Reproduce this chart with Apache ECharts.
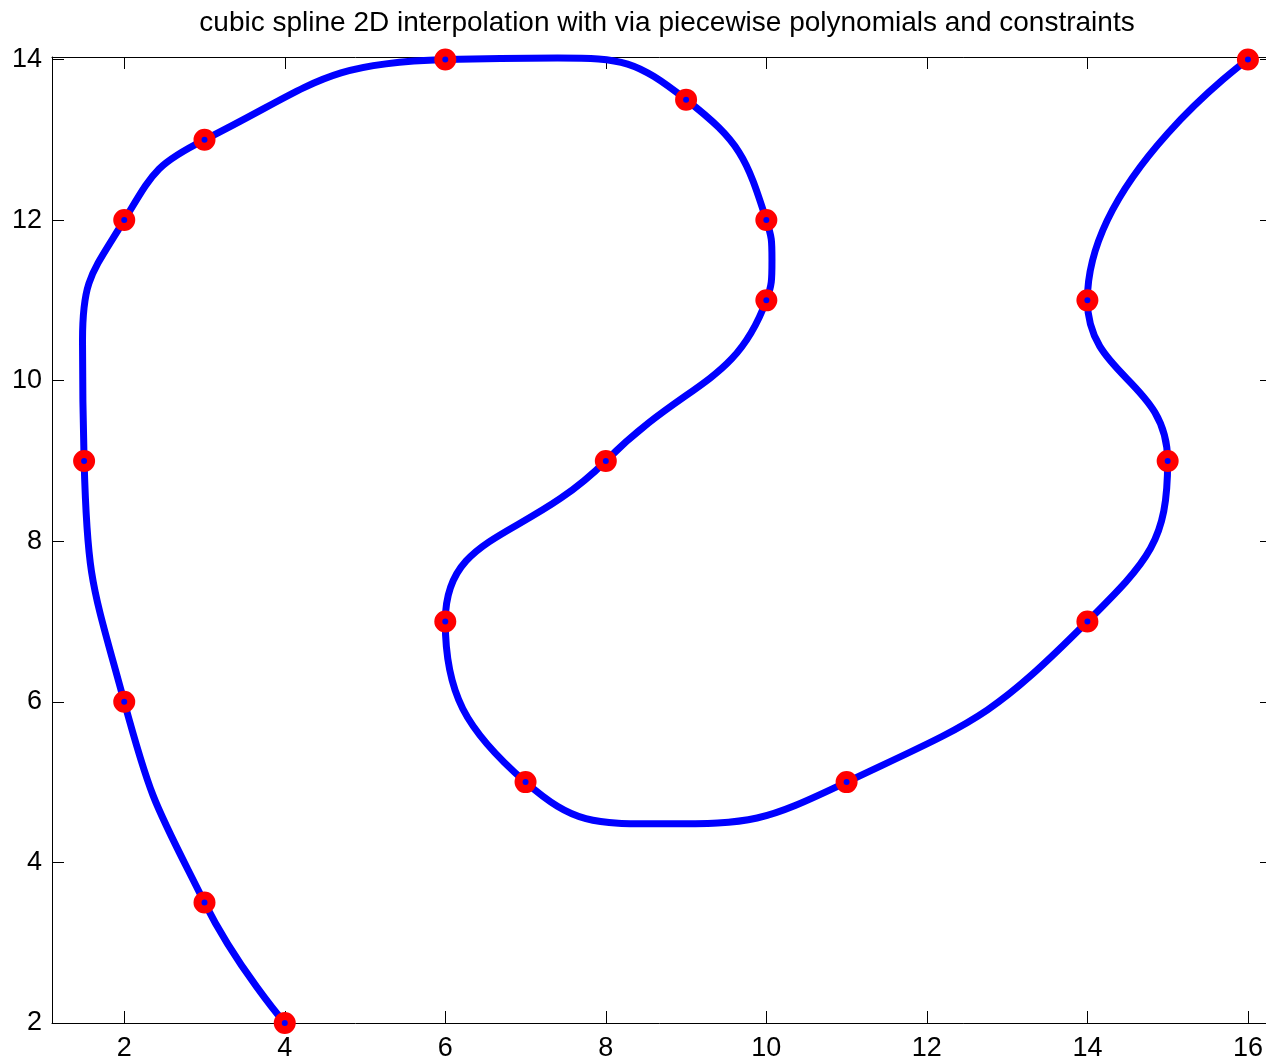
<!DOCTYPE html>
<html>
<head>
<meta charset="utf-8">
<script src="https://cdn.jsdelivr.net/npm/echarts@6/dist/echarts.min.js"></script>
<style>
html,body{margin:0;padding:0;background:#fff;}
#chart{width:1266px;height:1061px;}
</style>
</head>
<body>
<div id="chart"></div>
<script>
const titleText = 'cubic spline 2D interpolation with via piecewise polynomials and constraints';
// knots (red markers)
const knotX = [4, 3, 2, 1.5, 2, 3, 6, 9, 10, 10, 8, 6, 7, 11, 14, 15, 14, 16];
const knotY = [2, 3.5, 6, 9, 12, 13, 14, 13.5, 12, 11, 9, 7, 5, 5, 7, 9, 11, 14];
// blue curve
const curveX = [4, 3, 2, 1.5, 1.48, 2, 3, 6, 7.4, 9, 10, 10.07, 10, 8, 6, 7, 8.7, 11, 14, 15, 14, 16];
const curveY = [2, 3.5, 6, 9, 10.5, 12, 13, 14, 14.02, 13.5, 12, 11.5, 11, 9, 7, 5, 4.48, 5, 7, 9, 11, 14];
const xTicks = [2, 4, 6, 8, 10, 12, 14, 16];
const yTicks = [2, 4, 6, 8, 10, 12, 14];

const knots = knotX.map((x, i) => [x, knotY[i]]);
const curve = curveX.map((x, i) => [x, curveY[i]]);
const font = 'Liberation Sans, Arial, Helvetica, sans-serif';

const chart = echarts.init(document.getElementById('chart'), null, {renderer: 'canvas'});
const baseAxis = {
  type: 'value',
  axisLine: {show: true, onZero: false, lineStyle: {color: '#000', width: 1}},
  axisTick: {show: true, inside: true, length: 12, lineStyle: {color: '#000', width: 1}},
  splitLine: {show: false}
};
chart.setOption({
  backgroundColor: '#fff',
  animation: false,
  title: {
    text: titleText, left: 662, top: 4, textAlign: 'center',
    textStyle: {fontFamily: font, fontSize: 28, fontWeight: 'normal', color: '#000'}
  },
  grid: {left: 52, top: 57, width: 1220, height: 966, containLabel: false, outerBoundsMode: 'none'},
  xAxis: [
    Object.assign({}, baseAxis, {
      position: 'bottom', min: 1.1, max: 16.3,
      axisTick: Object.assign({}, baseAxis.axisTick, {customValues: xTicks}),
      axisLabel: {customValues: xTicks, margin: 12, fontFamily: font, fontSize: 27, color: '#000'}
    }),
    Object.assign({}, baseAxis, {
      position: 'top', min: 1.1, max: 16.3,
      axisTick: Object.assign({}, baseAxis.axisTick, {customValues: xTicks}),
      axisLabel: {show: false}
    })
  ],
  yAxis: [
    Object.assign({}, baseAxis, {
      position: 'left', min: 2, max: 14.031,
      axisTick: Object.assign({}, baseAxis.axisTick, {customValues: yTicks}),
      axisLabel: {customValues: yTicks, margin: 10, fontFamily: font, fontSize: 27, color: '#000'}
    }),
    Object.assign({}, baseAxis, {
      position: 'right', min: 2, max: 14.031,
      axisTick: Object.assign({}, baseAxis.axisTick, {customValues: yTicks}),
      axisLabel: {show: false}
    })
  ],
  series: [{
    type: 'line',
    data: curve,
    smooth: 0.5,
    clip: false,
    showSymbol: false,
    symbol: 'none',
    lineStyle: {color: '#0000ff', width: 7},
    z: 2
  }, {
    type: 'scatter',
    data: knots,
    symbol: 'circle',
    symbolSize: 14,
    clip: false,
    itemStyle: {color: '#0000ff', borderColor: '#ff0000', borderWidth: 8, opacity: 1},
    z: 3
  }]
});
</script>
</body>
</html>
